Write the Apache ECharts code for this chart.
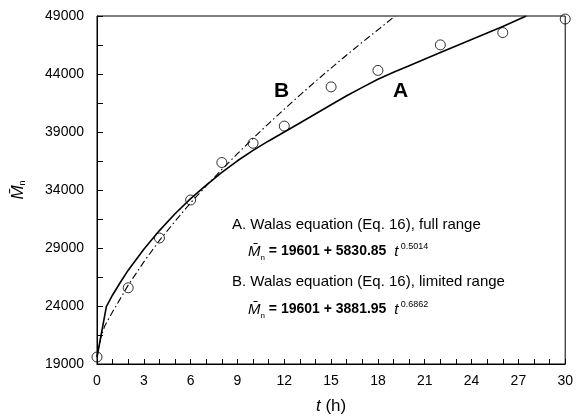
<!DOCTYPE html>
<html>
<head>
<meta charset="utf-8">
<script src="https://cdn.jsdelivr.net/npm/echarts@6/dist/echarts.min.js"></script>
<style>html,body{margin:0;padding:0;background:#fff}#c{width:576px;height:420px}</style>
</head>
<body>
<div id="c"></div>
<script>
// observed data points
const obsT = [0, 2, 4, 6, 8, 10, 12, 15, 18, 22, 26, 30];
const obsM = [19601, 25570, 29860, 33140, 36370, 38030, 39510, 42890, 44310, 46510, 47570, 48740];
// curve A (solid, full range)
const aT = [0, 0.6, 1, 1.5, 2, 3, 4, 5, 6, 7, 8, 9, 10, 11, 12, 13, 15, 16, 17, 18, 19, 20, 22, 24, 26, 27.5];
const aM = [19601, 23950, 24950, 26050, 27090, 28900, 30500, 31950, 33250, 34420, 35520, 36520, 37420, 38230, 39000, 39780, 41350, 42120, 42850, 43550, 44150, 44720, 45850, 46970, 48100, 49000];
// curve B (dash-dot, limited range)
const bT = [0, 0.25, 0.5, 1, 2, 3, 4, 5, 6, 7, 8, 9, 10, 11, 12, 13, 14, 15, 16, 17, 18, 19, 19.1];
const bM = [19601, 21300, 22300, 23500, 25800, 27800, 29650, 31300, 32900, 34350, 35770, 37130, 38450, 39730, 40970, 42180, 43360, 44510, 45640, 46740, 47810, 48890, 49000];
const xTicks = {min: 0, max: 30, step: 3};
const yTicks = {min: 19000, max: 49000, step: 5000};

const zip = (xs, ys) => xs.map((x, i) => [x, ys[i]]);
const FONT = 'Liberation Sans, Arial, sans-serif';
const eqRich = {
  m: {fontStyle: 'italic', fontSize: 15, fontFamily: FONT, color: '#000'},
  s: {fontSize: 8, fontFamily: FONT, color: '#000', padding: [12, 0, 0, 0]},
  t: {fontStyle: 'italic', fontSize: 15, fontFamily: FONT, color: '#000'},
  p: {fontSize: 9, fontFamily: FONT, color: '#000', padding: [0, 0, 10, 0]}
};
const chart = echarts.init(document.getElementById('c'), null, {renderer: 'canvas'});
chart.setOption({
  animation: false,
  backgroundColor: '#fff',
  grid: {left: 97, right: 7, top: 16, bottom: 54, show: true, borderColor: '#000', borderWidth: 1, backgroundColor: 'transparent'},
  xAxis: {
    type: 'value', min: xTicks.min, max: xTicks.max, interval: xTicks.step,
    name: '{i|t} (h)', nameLocation: 'middle', nameGap: 34,
    nameTextStyle: {fontFamily: FONT, fontSize: 17, color: '#000', rich: {i: {fontStyle: 'italic', fontFamily: FONT, fontSize: 17, color: '#000'}}},
    axisLine: {lineStyle: {color: '#000', width: 1}},
    axisTick: {inside: true, length: 5, lineStyle: {color: '#000'}},
    minorTick: {show: true, splitNumber: 3, length: 5, lineStyle: {color: '#000'}},
    splitLine: {show: false},
    axisLabel: {fontFamily: FONT, fontSize: 14, color: '#000', margin: 10}
  },
  yAxis: {
    type: 'value', min: yTicks.min, max: yTicks.max, interval: yTicks.step,
    name: '{m|M\u0304}{s|n}', nameLocation: 'middle', nameGap: 70, nameRotate: 90,
    nameTextStyle: {rich: {m: {fontStyle: 'italic', fontFamily: FONT, fontSize: 17, color: '#000'}, s: {fontFamily: FONT, fontSize: 9, color: '#000', padding: [9, 0, 0, 0]}}},
    axisLine: {lineStyle: {color: '#000', width: 1}},
    axisTick: {inside: true, length: 6, lineStyle: {color: '#000'}},
    minorTick: {show: true, splitNumber: 2, length: 6, lineStyle: {color: '#000'}},
    splitLine: {show: false},
    axisLabel: {fontFamily: FONT, fontSize: 14, color: '#000', margin: 13, formatter: v => String(v)}
  },
  series: [
    {type: 'line', data: zip(aT, aM), showSymbol: false, symbol: 'none', smooth: false, lineStyle: {color: '#000', width: 1.6, join: 'round'}, clip: true, z: 2},
    {type: 'line', data: zip(bT, bM), showSymbol: false, symbol: 'none', smooth: false, lineStyle: {color: '#000', width: 1.1, type: [7, 3, 1.5, 3]}, clip: true, z: 2},
    {type: 'scatter', data: zip(obsT, obsM), symbol: 'circle', symbolSize: 10, clip: false,
      itemStyle: {color: 'rgba(0,0,0,0)', borderColor: '#000', borderWidth: 1}, z: 3}
  ],
  graphic: [
    {type: 'text', left: 274, top: 81, style: {text: 'B', font: 'bold 21px ' + FONT, fill: '#000'}},
    {type: 'text', left: 393, top: 81, style: {text: 'A', font: 'bold 21px ' + FONT, fill: '#000'}},
    {type: 'text', left: 232, top: 217, style: {text: 'A. Walas equation (Eq. 16), full range', font: '15px ' + FONT, fill: '#000'}},
    {type: 'text', left: 248, top: 242, style: {text: '{m|M\u0304}{s|n} = 19601 + 5830.85  {t|t}{p| 0.5014}', font: 'bold 14px ' + FONT, fill: '#000', rich: eqRich}},
    {type: 'text', left: 232, top: 274, style: {text: 'B. Walas equation (Eq. 16), limited range', font: '15px ' + FONT, fill: '#000'}},
    {type: 'text', left: 248, top: 300, style: {text: '{m|M\u0304}{s|n} = 19601 + 3881.95  {t|t}{p| 0.6862}', font: 'bold 14px ' + FONT, fill: '#000', rich: eqRich}}
  ]
});
</script>
</body>
</html>
